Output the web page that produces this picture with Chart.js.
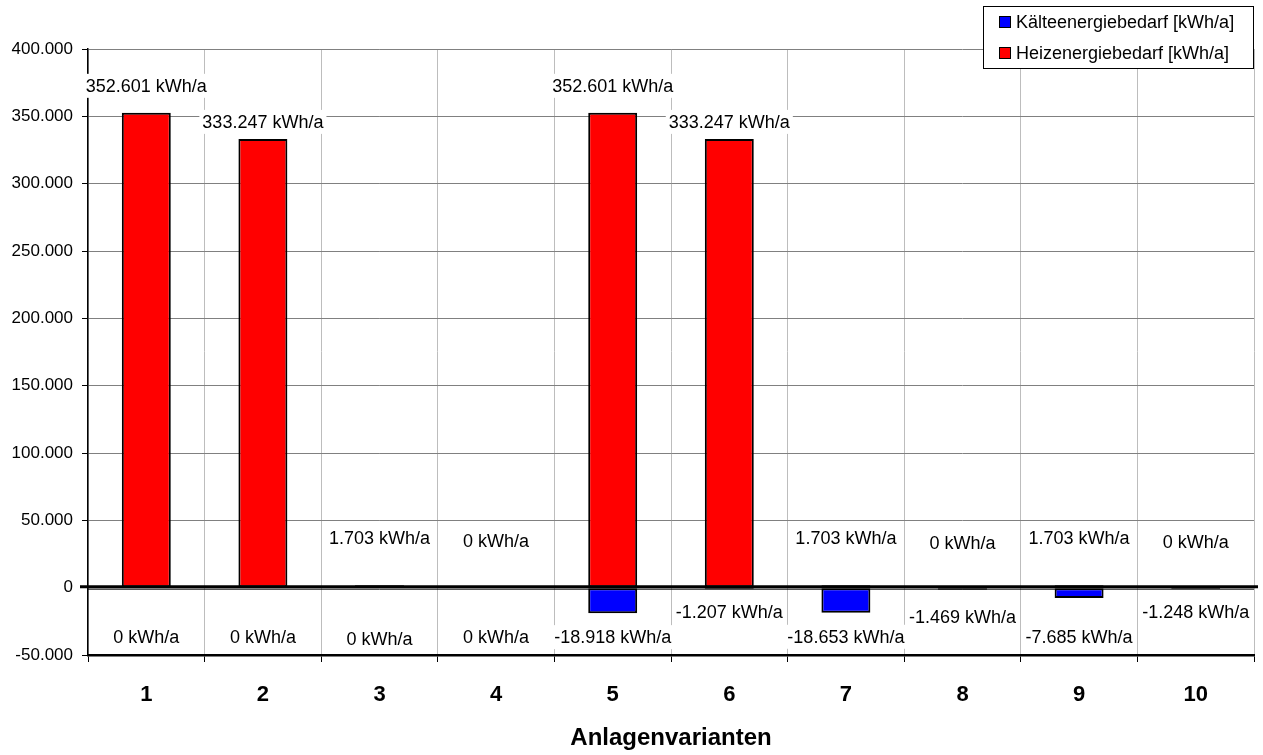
<!DOCTYPE html>
<html lang="de">
<head>
<meta charset="utf-8">
<title>Energiebedarf Anlagenvarianten</title>
<script src="https://cdn.jsdelivr.net/npm/chart.js@4.4.1/dist/chart.umd.min.js"></script>
<style>
  html, body { margin: 0; padding: 0; background: #fff; }
  #wrap { width: 1263px; height: 755px; }
</style>
</head>
<body>
<div id="wrap"><canvas id="chart" width="1263" height="755"></canvas></div>
<script>
// --- data ---
const categories = ['1', '2', '3', '4', '5', '6', '7', '8', '9', '10'];
const heatDemand = [352601, 333247, 1703, 0, 352601, 333247, 1703, 0, 1703, 0];
const coolDemand = [0, 0, 0, 0, -18918, -1207, -18653, -1469, -7685, -1248];
const yTickValues = [-50000, 0, 50000, 100000, 150000, 200000, 250000, 300000, 350000, 400000];
const seriesNames = ['Kälteenergiebedarf [kWh/a]', 'Heizenergiebedarf [kWh/a]'];

// label placement (pixels away from the bar end)
const heatLabelLift = [27, 17, 47, 47, 27, 17, 47, 47, 47, 47];
const coolLabelDrop = [49, 49, 51, 49, 24, 23, 24, 27, 39, 23];

const FONT = '"Liberation Sans", Arial, sans-serif';

function fmt(v) {
  const s = Math.abs(v).toString().replace(/\B(?=(\d{3})+(?!\d))/g, '.');
  return (v < 0 ? '-' : '') + s;
}

// zero line, value labels and the boxed legend
const overlayPlugin = {
  id: 'overlay',
  afterDatasetsDraw(chart) {
    const ctx = chart.ctx;
    const area = chart.chartArea;
    const zeroY = chart.scales.y.getPixelForValue(0);

    ctx.save();
    ctx.strokeStyle = '#000';
    ctx.lineWidth = 3;
    ctx.beginPath();
    ctx.moveTo(area.left - 8, zeroY - 1);
    ctx.lineTo(area.right + 4, zeroY - 1);
    ctx.stroke();
    ctx.lineWidth = 1;
    ctx.beginPath();
    ctx.moveTo(area.left, zeroY + 1.5);
    ctx.lineTo(area.right, zeroY + 1.5);
    ctx.stroke();

    ctx.font = '18px ' + FONT;
    ctx.textAlign = 'center';
    ctx.textBaseline = 'middle';
    const drawLabel = (text, x, y) => {
      const w = ctx.measureText(text).width;
      ctx.fillStyle = '#fff';
      ctx.fillRect(x - w / 2 - 3, y - 12, w + 6, 24);
      ctx.fillStyle = '#000';
      ctx.fillText(text, x, y + 1);
    };

    const coolMeta = chart.getDatasetMeta(0);
    const heatMeta = chart.getDatasetMeta(1);
    heatMeta.data.forEach((bar, i) => {
      drawLabel(fmt(heatDemand[i]) + ' kWh/a', bar.x, bar.y - heatLabelLift[i]);
    });
    coolMeta.data.forEach((bar, i) => {
      drawLabel(fmt(coolDemand[i]) + ' kWh/a', bar.x, bar.y + coolLabelDrop[i]);
    });
    ctx.restore();
  },
  afterDraw(chart) {
    const ctx = chart.ctx;
    ctx.save();
    const bx = 983.5, by = 6.5, bw = 270, bh = 62;
    ctx.fillStyle = '#fff';
    ctx.fillRect(bx, by, bw, bh);
    ctx.strokeStyle = '#000';
    ctx.lineWidth = 1;
    ctx.strokeRect(bx, by, bw, bh);

    ctx.font = '18px ' + FONT;
    ctx.textAlign = 'left';
    ctx.textBaseline = 'middle';
    chart.data.datasets.forEach((ds, i) => {
      const cy = 22 + i * 31;
      ctx.fillStyle = ds.backgroundColor;
      ctx.fillRect(999.5, cy - 5.5, 11, 11);
      ctx.strokeRect(999.5, cy - 5.5, 11, 11);
      ctx.fillStyle = '#000';
      ctx.fillText(ds.label, 1016, cy + 1);
    });
    ctx.restore();
  }
};

new Chart(document.getElementById('chart'), {
  type: 'bar',
  data: {
    labels: categories,
    datasets: [
      {
        label: seriesNames[0],
        data: coolDemand,
        backgroundColor: '#0000ff',
        borderColor: '#000',
        borderWidth: 2,
        borderSkipped: false
      },
      {
        label: seriesNames[1],
        data: heatDemand,
        backgroundColor: '#ff0000',
        borderColor: '#000',
        borderWidth: 2,
        borderSkipped: false
      }
    ]
  },
  options: {
    responsive: false,
    animation: false,
    layout: { padding: { top: 49, right: 9, left: 0, bottom: 0 } },
    datasets: { bar: { categoryPercentage: 1, barPercentage: 0.42 } },
    plugins: {
      legend: { display: false },
      tooltip: { enabled: false }
    },
    scales: {
      x: {
        stacked: true,
        grid: { offset: true, color: '#bdbdbd', tickColor: '#000', tickLength: 7, lineWidth: 1 },
        border: { color: '#000', width: 2.5 },
        ticks: { color: '#000', padding: 20, font: { family: FONT, size: 22, weight: 'bold' } },
        title: {
          display: true,
          text: 'Anlagenvarianten',
          color: '#000',
          font: { family: FONT, size: 24, weight: 'bold' },
          padding: { top: 8, bottom: 2 }
        },
        afterFit(scale) { scale.height = 100; }
      },
      y: {
        stacked: true,
        min: -50000,
        max: 400000,
        afterBuildTicks(scale) { scale.ticks = yTickValues.map(v => ({ value: v })); },
        grid: { color: '#808080', tickColor: '#000', tickLength: 6, lineWidth: 1 },
        border: { color: '#000', width: 1.5 },
        ticks: { color: '#000', padding: 9, font: { family: FONT, size: 17 }, callback: v => fmt(v) },
        afterFit(scale) { scale.width = 88; }
      }
    }
  },
  plugins: [overlayPlugin]
});
</script>
</body>
</html>
